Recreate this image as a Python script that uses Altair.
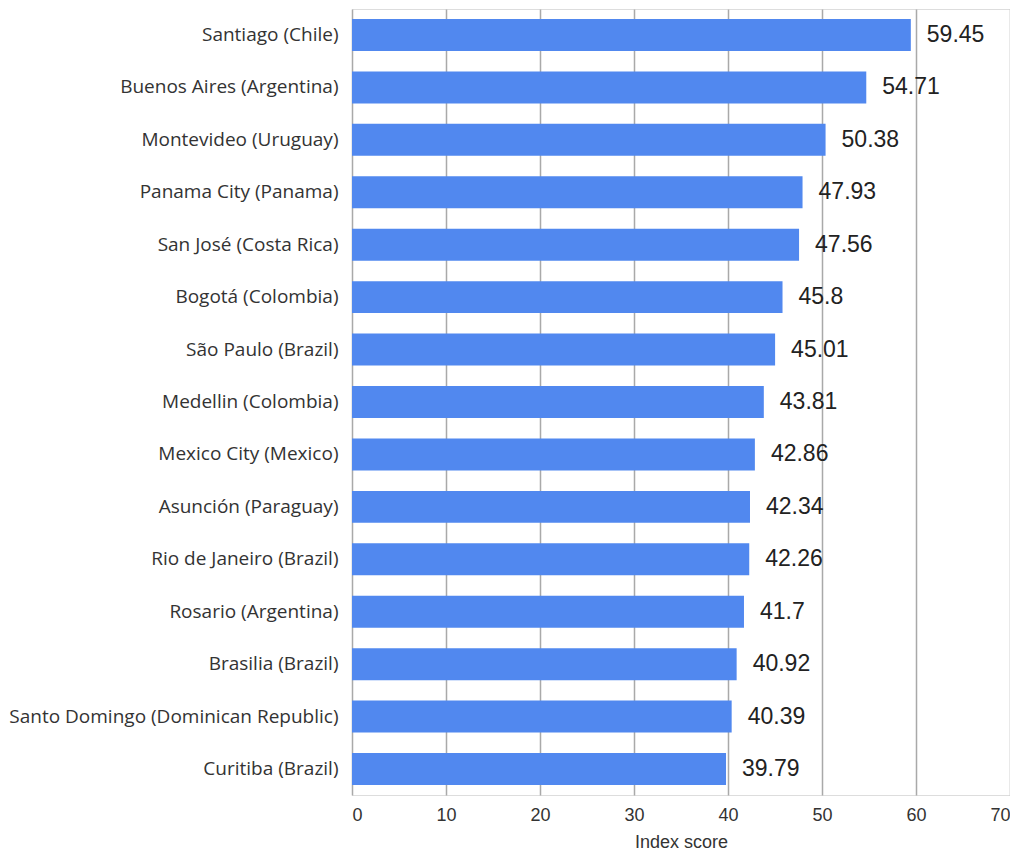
import altair as alt
import pandas as pd

cities = [
    "Santiago (Chile)",
    "Buenos Aires (Argentina)",
    "Montevideo (Uruguay)",
    "Panama City (Panama)",
    "San José (Costa Rica)",
    "Bogotá (Colombia)",
    "São Paulo (Brazil)",
    "Medellin (Colombia)",
    "Mexico City (Mexico)",
    "Asunción (Paraguay)",
    "Rio de Janeiro (Brazil)",
    "Rosario (Argentina)",
    "Brasilia (Brazil)",
    "Santo Domingo (Dominican Republic)",
    "Curitiba (Brazil)",
]
scores = [59.45, 54.71, 50.38, 47.93, 47.56, 45.8, 45.01, 43.81, 42.86, 42.34,
          42.26, 41.7, 40.92, 40.39, 39.79]
score_labels = ["59.45", "54.71", "50.38", "47.93", "47.56", "45.8", "45.01", "43.81",
                "42.86", "42.34", "42.26", "41.7", "40.92", "40.39", "39.79"]
x_ticks = [0, 10, 20, 30, 40, 50, 60, 70]

df = pd.DataFrame({"city": cities, "score": scores, "label": score_labels})

y_enc = alt.Y(
    "city:N",
    sort=cities,
    title=None,
    scale=alt.Scale(paddingInner=0.39, paddingOuter=0.19),
    axis=alt.Axis(
        labelFont="Open Sans",
        labelFontSize=19,
        labelColor="#333333",
        labelPadding=14,
        labelLimit=500,
        ticks=False,
        domain=False,
        grid=False,
    ),
)
x_enc = alt.X(
    "score:Q",
    title="Index score",
    scale=alt.Scale(domain=[0, 70], nice=False),
    axis=alt.Axis(
        values=x_ticks,
        grid=True,
        gridColor="#a9a9a9",
        gridWidth=1.5,
        ticks=False,
        domain=False,
        labelFont="Liberation Sans",
        labelFontSize=18,
        labelColor="#333333",
        labelPadding=11,
        titleFont="Liberation Sans",
        titleFontSize=18,
        titleFontWeight="normal",
        titleColor="#333333",
        titlePadding=9,
    ),
)

bars = alt.Chart(df).mark_bar(color="#5188ef").encode(x=x_enc, y=y_enc)
texts = alt.Chart(df).mark_text(
    align="left", baseline="middle", dx=16,
    font="Liberation Sans", fontSize=23, color="#222222"
).encode(x="score:Q", y=alt.Y("city:N", sort=cities), text="label:N")

chart = (bars + texts).properties(
    width=658, height=786,
    padding={"left": 0, "top": 1, "right": 0, "bottom": 0},
).configure_view(strokeWidth=0, stroke="transparent").configure(background="white")

chart.save("out.html", embed_options={"renderer": "svg", "actions": False})
